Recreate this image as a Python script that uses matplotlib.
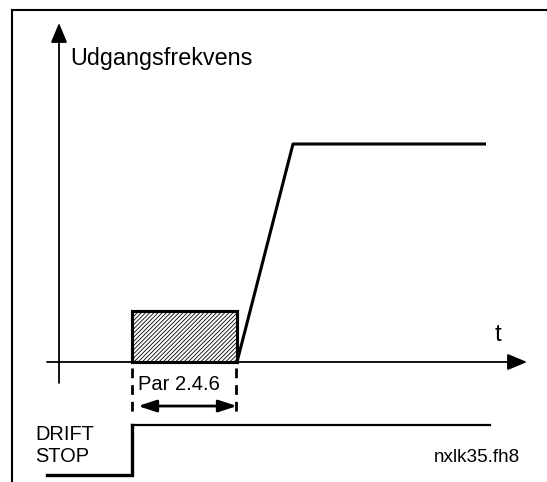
import matplotlib
matplotlib.use("Agg")
import matplotlib.pyplot as plt
from matplotlib.patches import Rectangle
from matplotlib.lines import Line2D

plt.rcParams['font.family'] = ['Liberation Sans', 'DejaVu Sans']
plt.rcParams['hatch.linewidth'] = 0.6
plt.rcParams['hatch.color'] = '#333333'

# Udgangsfrekvens (% af max) mod tid (vilkaarlige enheder)
tid = [178, 234, 427]
frekvens = [0, 100, 100]

# DC-bremse foer start (Par 2.4.6)
brems_start = 73
brems_slut = 178
brems_niveau = 23.4

# DRIFT/STOP signal
signal_tid = [-12, 73, 73, 431]
signal_tilstand = [0, 0, 1, 1]
stop_y = -51.8
drift_y = -28.9

W, H = 547, 482
fig = plt.figure(figsize=(W / 100, H / 100), dpi=100)
ax = fig.add_axes([0, 0, 1, 1])
ax.set_xlim(-59, 488)
ax.set_ylim(-120 / 2.18, 362 / 2.18)
ax.axis('off')

# ramme (venstre + top)
fig.add_artist(Line2D([12 / W, 12 / W], [0, 1 - 10 / H], color='black', lw=1.5))
fig.add_artist(Line2D([12 / W, 1], [1 - 10 / H, 1 - 10 / H], color='black', lw=1.5))

# akser
pil = dict(arrowstyle='-|>,head_length=0.6,head_width=0.25', color='black',
           lw=1.3, shrinkA=0, shrinkB=0, mutation_scale=20)
ax.annotate('', xy=(0, 155.5), xytext=(0, -9.6), arrowprops=pil)
ax.annotate('', xy=(468, 0), xytext=(-12, 0), arrowprops=pil)

# bremse-kasse
ax.add_patch(Rectangle((brems_start, 0), brems_slut - brems_start, brems_niveau,
                       facecolor='white', edgecolor='black', lw=2.2,
                       hatch='////////', zorder=3))
ax.add_patch(Rectangle((brems_start, 0), brems_slut - brems_start, brems_niveau,
                       facecolor='none', edgecolor='black', lw=2.2, zorder=4))

# frekvenskurve
ax.plot(tid, frekvens, color='black', lw=2.2, solid_capstyle='butt')

# stiplede markeringer
for tx in (brems_start, brems_slut - 1):
    ax.plot([tx, tx], [-2.75, -23.4], color='black', lw=2, linestyle=(0, (3.5, 2.5)))

# dobbeltpil Par 2.4.6
ax.annotate('', xy=(brems_slut, -20.2), xytext=(brems_start + 6, -20.2),
            arrowprops=dict(arrowstyle='<|-|>,head_length=0.55,head_width=0.18',
                            color='black', lw=2, shrinkA=0, shrinkB=0,
                            mutation_scale=20))

# DRIFT/STOP signal
sig_y = [stop_y + s * (drift_y - stop_y) for s in signal_tilstand]
ax.plot(signal_tid[:3], sig_y[:3], color='black', lw=2.4, solid_joinstyle='miter')
ax.plot(signal_tid[2:], sig_y[2:], color='black', lw=1.6)

# tekster
ax.text(70 / W, 1 - 58 / H, 'Udgangsfrekvens', transform=fig.transFigure,
        fontsize=16.8, ha='left', va='center')
ax.text(498 / W, 1 - 335 / H, 't', transform=fig.transFigure,
        fontsize=17.5, ha='center', va='center')
ax.text(138 / W, 1 - 385 / H, 'Par 2.4.6', transform=fig.transFigure,
        fontsize=14.5, ha='left', va='center')
ax.text(35 / W, 1 - 435 / H, 'DRIFT', transform=fig.transFigure,
        fontsize=14.4, ha='left', va='center')
ax.text(35 / W, 1 - 457 / H, 'STOP', transform=fig.transFigure,
        fontsize=14.4, ha='left', va='center')
ax.text(520 / W, 1 - 458 / H, 'nxlk35.fh8', transform=fig.transFigure,
        fontsize=13.6, ha='right', va='center')

fig.savefig('out.png', dpi=100)
